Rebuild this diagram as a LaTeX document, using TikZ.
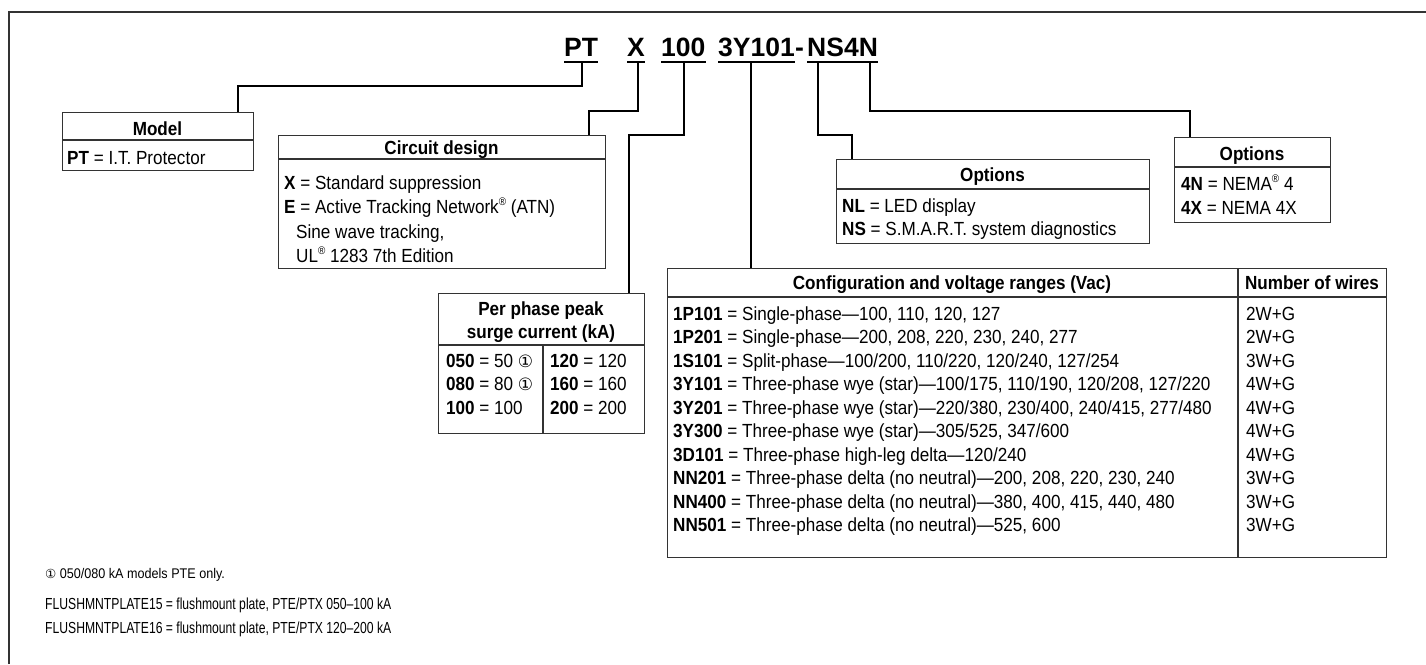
\documentclass[tikz,border=0pt]{standalone}
\usepackage{fontspec}
\setmainfont{Liberation Sans}[FakeStretch=0.9]
\newfontfamily\widefont{Liberation Sans}
\newfontfamily\footfont{Liberation Sans}[FakeStretch=0.76]
\newfontfamily\circfont{DejaVu Sans}
\newcommand{\cone}{{\circfont\fontsize{17}{17}\selectfont ①}}
\newcommand{\conesm}{{\circfont\fontsize{12.5}{12.5}\selectfont ①}}
\newcommand{\rmk}{\raisebox{0.4em}{\fontsize{11}{11}\selectfont ®}}
\tikzset{
  box/.style={draw=black!80, line width=1.4pt, inner sep=0, anchor=north west},
  sep/.style={draw=black!80, line width=1.4pt},
  conn/.style={draw=black, line width=1.4pt},
  ul/.style={draw=black, line width=2.6pt},
  body/.style={inner sep=0, anchor=base west, font=\fontsize{19}{22}\selectfont},
  head/.style={inner sep=0, anchor=base, font=\bfseries\fontsize{19}{22}\selectfont},
  code/.style={inner sep=0, anchor=base west, font=\widefont\bfseries\fontsize{26.5}{30}\selectfont},
  note/.style={inner sep=0, anchor=base west, font=\fontsize{14}{16}\selectfont},
  foot/.style={inner sep=0, anchor=base west, font=\footfont\fontsize{16}{18}\selectfont},
}
\begin{document}
\begin{tikzpicture}[x=1pt,y=-1pt]
\useasboundingbox (0,0) rectangle (1426,664);
\fill[white] (0,0) rectangle (1426,664);
% frame
\draw[black!80, line width=2pt] (9,664) -- (9,12) -- (1426,12);

% code
\node[code] (cPT) at (564,56.7) {PT};
\node[code] (cX) at (627,56.7) {X};
\node[code] (c100) at (661,56.7) {100};
\node[code] (c3Y) at (718,56.7) {3Y101};
\node[code, anchor=base west] (cdash) at (c3Y.base east) {-};
\node[code] (cNS) at (807,56.7) {NS4N};
\foreach \n in {cPT,cX,c100,c3Y,cNS}{
  \draw[ul] ([yshift=-5.3pt]\n.base west) -- ([yshift=-5.3pt]\n.base east);
}

% model
\node[box, minimum width=191pt, minimum height=58pt] (model) at (62,112) {};
\draw[sep] (62,140) -- (253,140);
\node[head] (modelh) at (157.5,135) {Model};
\node[body] (model1) at (67,164) {\textbf{PT} = I.T. Protector};

% circuit design
\node[box, minimum width=327pt, minimum height=133pt] (circ) at (278,135) {};
\draw[sep] (278,159) -- (605,159);
\node[head] (circh) at (441.5,154) {Circuit design};
\node[body] (circ1) at (284,189) {\textbf{X} = Standard suppression};
\node[body] (circ2) at (284,213.5) {\textbf{E} = Active Tracking Network\rmk{} (ATN)};
\node[body] (circ3) at (296,238) {Sine wave tracking,};
\node[body] (circ4) at (296,262) {UL\rmk{} 1283 7th Edition};

% surge current
\node[box, minimum width=206pt, minimum height=140pt] (surge) at (438,293) {};
\draw[sep] (438,345) -- (644,345);
\draw[sep] (543,345) -- (543,433);
\node[head] (surgeh1) at (541,315) {Per phase peak};
\node[head] (surgeh2) at (541,338) {surge current (kA)};
\node[body] (s1) at (446,367) {\textbf{050} = 50 \cone};
\node[body] (s2) at (446,390) {\textbf{080} = 80 \cone};
\node[body] (s3) at (446,414) {\textbf{100} = 100};
\node[body] (s4) at (550,367) {\textbf{120} = 120};
\node[body] (s5) at (550,390) {\textbf{160} = 160};
\node[body] (s6) at (550,414) {\textbf{200} = 200};

% options NL/NS
\node[box, minimum width=313pt, minimum height=84pt] (opt1) at (836,159) {};
\draw[sep] (836,189) -- (1149,189);
\node[head] (opt1h) at (992.5,181) {Options};
\node[body] (o1) at (842,212) {\textbf{NL} = LED display};
\node[body] (o2) at (842,235) {\textbf{NS} = S.M.A.R.T. system diagnostics};

% options 4N/4X
\node[box, minimum width=156pt, minimum height=85pt] (opt2) at (1174,137) {};
\draw[sep] (1174,167) -- (1330,167);
\node[head] (opt2h) at (1252,160) {Options};
\node[body] (p1) at (1181,190) {\textbf{4N} = NEMA\rmk{} 4};
\node[body] (p2) at (1181,214) {\textbf{4X} = NEMA 4X};

% configuration table
\node[box, minimum width=719pt, minimum height=289pt] (cfg) at (667,268) {};
\draw[sep] (667,297) -- (1386,297);
\draw[sep] (1238,268) -- (1238,557);
\node[head] (cfgh1) at (952,289) {Configuration and voltage ranges (Vac)};
\node[head] (cfgh2) at (1312,289) {Number of wires};
\foreach \i/\c/\t/\w in {
  0/1P101/{Single-phase—100, 110, 120, 127}/2W+G,
  1/1P201/{Single-phase—200, 208, 220, 230, 240, 277}/2W+G,
  2/1S101/{Split-phase—100\slash200, 110\slash220, 120\slash240, 127\slash254}/3W+G,
  3/3Y101/{Three-phase wye (star)—100\slash175, 110\slash190, 120\slash208, 127\slash220}/4W+G,
  4/3Y201/{Three-phase wye (star)—220\slash380, 230\slash400, 240\slash415, 277\slash480}/4W+G,
  5/3Y300/{Three-phase wye (star)—305\slash525, 347\slash600}/4W+G,
  6/3D101/{Three-phase high-leg delta—120\slash240}/4W+G,
  7/NN201/{Three-phase delta (no neutral)—200, 208, 220, 230, 240}/3W+G,
  8/NN400/{Three-phase delta (no neutral)—380, 400, 415, 440, 480}/3W+G,
  9/NN501/{Three-phase delta (no neutral)—525, 600}/3W+G}{
  \node[body] (r\i) at (673,320+23.55*\i) {\textbf{\c} = \t};
  \node[body] (w\i) at (1246,320+23.55*\i) {\w};
}

% connectors
\coordinate (uPT) at (582,62);  \coordinate (bPT) at (238,86);
\coordinate (uX) at (638,62);   \coordinate (bX) at (589,111);
\coordinate (u100) at (684,62); \coordinate (b100) at (629,135);
\coordinate (u3Y) at (751,62);
\coordinate (uNS) at (818,62);  \coordinate (bNS) at (852,135);
\coordinate (u4N) at (870,62);  \coordinate (b4N) at (1190,111);
\draw[conn] (uPT) |- (bPT) -- (bPT |- model.north);
\draw[conn] (uX) |- (bX) -- (bX |- circ.north);
\draw[conn] (u100) |- (b100) -- (b100 |- surge.north);
\draw[conn] (u3Y) -- (u3Y |- cfg.north);
\draw[conn] (uNS) |- (bNS) -- (bNS |- opt1.north);
\draw[conn] (u4N) |- (b4N) -- (b4N |- opt2.north);

% footnotes
\node[note] (fn1) at (45,578) {\conesm{} 050/080 kA models PTE only.};
\node[foot] (fn2) at (45,609) {FLUSHMNTPLATE15 = flushmount plate, PTE/PTX 050–100 kA};
\node[foot] (fn3) at (45,633) {FLUSHMNTPLATE16 = flushmount plate, PTE/PTX 120–200 kA};
\end{tikzpicture}
\end{document}
